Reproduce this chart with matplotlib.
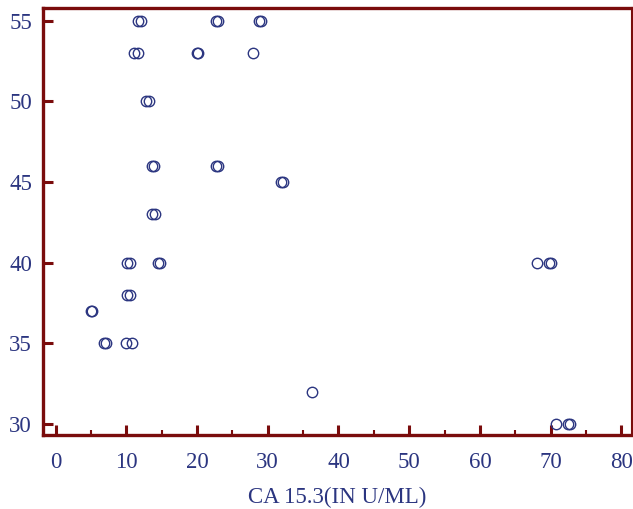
import numpy as np
import matplotlib
matplotlib.use('Agg')
import matplotlib.pyplot as plt
from matplotlib.ticker import MultipleLocator

# CA 15.3 (U/ML) vs age
ca153 = [11.7, 12.05, 22.7, 23.0, 28.8, 29.0,
         11.1, 11.6, 20.0, 20.2, 27.9,
         12.8, 13.2,
         13.7, 13.9, 22.7, 22.9,
         31.9, 32.1,
         13.7, 14.0,
         10.1, 10.6, 14.5, 14.8, 68.1, 69.8, 70.1,
         10.1, 10.6,
         5.0, 5.1,
         6.9, 7.1, 10.0, 10.8,
         36.2,
         70.7, 72.4, 72.7]
age = [55, 55, 55, 55, 55, 55,
       53, 53, 53, 53, 53,
       50, 50,
       46, 46, 46, 46,
       45, 45,
       43, 43,
       40, 40, 40, 40, 40, 40, 40,
       38, 38,
       37, 37,
       35, 35, 35, 35,
       32,
       30, 30, 30]

dark_red = '#7a0c0c'
navy = '#2b3580'

plt.rcParams['font.family'] = ['Liberation Serif', 'DejaVu Serif']

fig = plt.figure(figsize=(6.33, 5.09), dpi=100)
ax = fig.add_axes([43 / 633, 1 - 435 / 509, (632 - 43) / 633, (435 - 8) / 509])

ax.plot(ca153, age, 'o', markersize=7.5, markerfacecolor='none',
        markeredgecolor=navy, markeredgewidth=1.0)

ax.set_xlim(-1.77, 81.5)
ax.set_ylim(29.32, 55.79)
ax.xaxis.set_major_locator(MultipleLocator(10))
ax.xaxis.set_minor_locator(MultipleLocator(5))
ax.yaxis.set_major_locator(MultipleLocator(5))

for side in ['left', 'bottom', 'top']:
    ax.spines[side].set_linewidth(2.4)
    ax.spines[side].set_color(dark_red)
ax.spines['right'].set_linewidth(1.5)
ax.spines['right'].set_color(dark_red)

ax.tick_params(axis='both', which='major', direction='in', length=7, width=2.2,
               color=dark_red, labelcolor=navy, labelsize=16.5)
ax.tick_params(axis='x', which='minor', direction='in', length=3.5, width=1.5,
               color=dark_red)
ax.tick_params(axis='x', which='major', pad=12)
ax.tick_params(axis='y', which='major', pad=8)

ax.set_xlabel('CA 15.3(IN U/ML)', fontsize=16.5, color=navy, labelpad=10)

fig.savefig('out.png', dpi=100)
